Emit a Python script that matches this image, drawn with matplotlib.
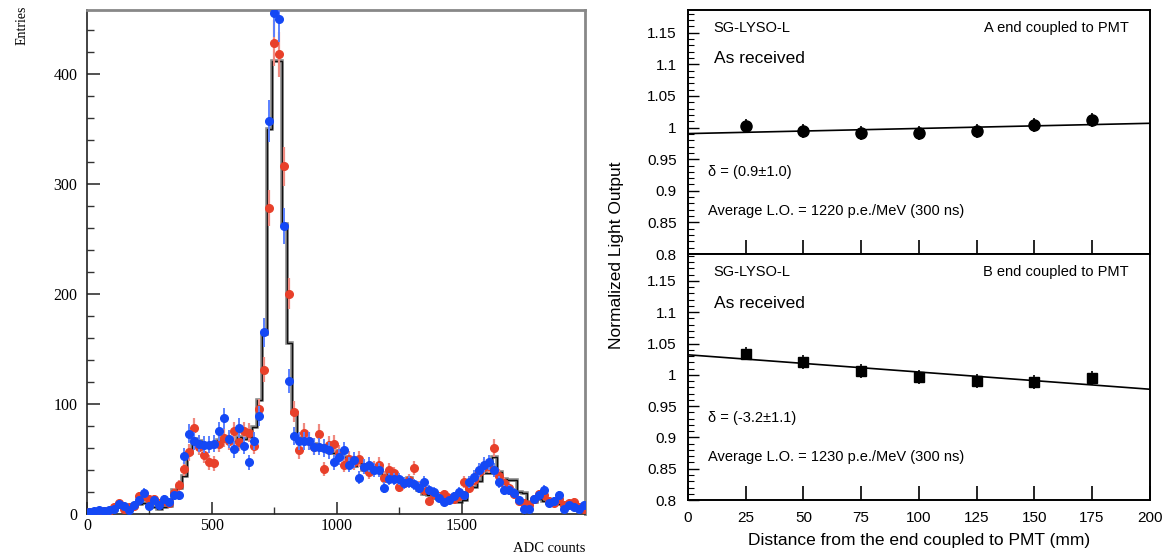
import numpy as np
import matplotlib
matplotlib.use('Agg')
from matplotlib import pyplot as plt
from matplotlib.ticker import MultipleLocator

# ---- left panel: ADC spectrum, 20-count bins from 0 to 2000 ----
bin_edges = np.arange(0, 2001, 20)
bin_centers = bin_edges[:-1] + 10

blue_counts = [2, 3, 4, 3, 4, 5, 9, 7, 4, 8,
               13, 19, 7, 13, 8, 14, 11, 17, 17, 53,
               73, 66, 64, 63, 63, 64, 75, 87, 68, 59,
               78, 62, 47, 66, 89, 165, 357, 455, 450, 262,
               121, 71, 66, 66, 66, 61, 61, 60, 58, 47,
               52, 58, 45, 49, 33, 43, 45, 40, 40, 24,
               32, 32, 32, 28, 29, 27, 24, 29, 22, 20,
               15, 11, 13, 16, 20, 17, 29, 34, 40, 45,
               47, 40, 29, 22, 22, 19, 13, 5, 5, 14,
               17, 22, 10, 12, 17, 5, 8, 6, 5, 8]

red_counts = [2, 1, 2, 3, 3, 6, 10, 5, 6, 7,
              16, 16, 14, 14, 10, 12, 10, 19, 26, 41,
              56, 78, 61, 54, 47, 46, 64, 69, 66, 75,
              65, 75, 74, 62, 95, 131, 278, 428, 418, 316,
              200, 93, 58, 74, 66, 61, 73, 41, 63, 64,
              55, 45, 50, 47, 50, 43, 38, 42, 45, 33,
              40, 37, 25, 28, 31, 42, 25, 22, 12, 18,
              16, 18, 15, 14, 16, 29, 24, 31, 38, 43,
              44, 60, 35, 28, 24, 18, 12, 10, 8, 14,
              18, 17, 12, 10, 14, 8, 10, 11, 6, 5]

mc_counts = [2, 2, 3, 2, 3, 4, 6, 7, 4, 8,
             9, 10, 8, 6, 5, 6, 7, 22, 24, 35,
             55, 68, 66, 64, 62, 64, 67, 70, 68, 66,
             70, 68, 70, 79, 104, 164, 350, 412, 412, 264,
             155, 92, 69, 67, 66, 64, 62, 58, 56, 55,
             57, 52, 48, 44, 46, 40, 38, 43, 41, 34,
             36, 32, 30, 28, 33, 26, 22, 18, 17, 15,
             14, 13, 12, 12, 11, 13, 29, 25, 30, 37,
             37, 52, 38, 32, 31, 31, 20, 19, 11, 11,
             14, 12, 10, 10, 9, 8, 7, 6, 5, 5]

# ---- right panel: light output vs distance ----
distance = [25, 50, 75, 100, 125, 150, 175]
lo_a = [1.002, 0.994, 0.991, 0.991, 0.995, 1.004, 1.012]
lo_b = [1.034, 1.020, 1.006, 0.997, 0.990, 0.989, 0.995]
lo_err = 0.011
fit_x = [0, 200]
fit_a = [0.9905, 1.0068]
fit_b = [1.032, 0.977]

fig = plt.figure(figsize=(11.66, 5.6), dpi=100)

# left histogram
ax = fig.add_axes([0.0746, 0.0821, 0.4271, 0.9])
blue_c = '#1448f5'
red_c = '#e8402a'
ax.stairs(mc_counts, bin_edges, color='#8a8a8a', lw=2.6, zorder=1)
ax.stairs(mc_counts, bin_edges, color='#111111', lw=1.0, zorder=2)
ax.errorbar(bin_centers, red_counts, yerr=np.sqrt(red_counts), fmt='o',
            color=red_c, ecolor='#f08a80', elinewidth=1.6, ms=5.5, zorder=3)
ax.errorbar(bin_centers, blue_counts, yerr=np.sqrt(blue_counts), fmt='o',
            color=blue_c, ecolor='#5a80ff', elinewidth=1.4, ms=5.5, zorder=4)
ax.set_xlim(0, 1992)
ax.set_ylim(0, 458)
ax.xaxis.set_major_locator(MultipleLocator(500))
ax.xaxis.set_minor_locator(MultipleLocator(250))
ax.yaxis.set_major_locator(MultipleLocator(100))
ax.yaxis.set_minor_locator(MultipleLocator(20))
ax.tick_params(which='both', direction='in', top=False, right=False,
               labelsize=11.5, color='#333333')
ax.tick_params(axis='x', pad=3)
ax.tick_params(axis='y', pad=7)
ax.tick_params(which='major', length=9, width=1.2)
ax.tick_params(which='minor', length=5, width=1.0)
for lab in ax.get_xticklabels() + ax.get_yticklabels():
    lab.set_family('Liberation Serif')
for s in ['top', 'right']:
    ax.spines[s].set_color('#888888')
    ax.spines[s].set_linewidth(2)
for s in ['left', 'bottom']:
    ax.spines[s].set_color('#222222')
    ax.spines[s].set_linewidth(1.2)
fig.text(0.019, 0.99, 'Entries', rotation=90, ha='center', va='top',
         fontsize=10, family='Liberation Serif')
fig.text(0.5017, 0.021, 'ADC counts', ha='right', va='center',
         fontsize=10.5, family='Liberation Serif')

# right stacked panels
sans = 'Liberation Sans'
ax_a = fig.add_axes([0.590, 0.5464, 0.396, 0.4357])
ax_b = fig.add_axes([0.590, 0.1071, 0.396, 0.4393])
panels = [
    (ax_a, lo_a, fit_a, 'o', 1.186, 'A end coupled to PMT', 'δ = (0.9±1.0)',
     'Average L.O. = 1220 p.e./MeV (300 ns)'),
    (ax_b, lo_b, fit_b, 's', 1.193, 'B end coupled to PMT', 'δ = (-3.2±1.1)',
     'Average L.O. = 1230 p.e./MeV (300 ns)'),
]
for a, vals, fit, mk, ytop, end_txt, d_txt, avg_txt in panels:
    a.plot(fit_x, fit, color='black', lw=1.2)
    a.errorbar(distance, vals, yerr=lo_err, fmt=mk, color='black',
               ms=8 if mk == 'o' else 7.5, elinewidth=1.2)
    a.set_xlim(0, 200)
    a.set_ylim(0.8, ytop)
    a.xaxis.set_major_locator(MultipleLocator(25))
    a.yaxis.set_major_locator(MultipleLocator(0.05))
    a.yaxis.set_minor_locator(MultipleLocator(0.01))
    a.tick_params(which='both', direction='in', top=False, right=False,
                  labelsize=11, pad=8)
    a.tick_params(axis='x', which='major', length=10, width=1.2)
    a.tick_params(axis='y', which='major', length=8, width=1.0)
    a.tick_params(axis='y', which='minor', length=4, width=0.8)
    a.yaxis.set_major_formatter(plt.FuncFormatter(lambda v, p: ('%.2f' % v).rstrip('0').rstrip('.')))
    for lab in a.get_xticklabels() + a.get_yticklabels():
        lab.set_family(sans)
    for s in a.spines.values():
        s.set_linewidth(1.4)
    a.text(0.055, 0.925, 'SG-LYSO-L', transform=a.transAxes, fontsize=10.5,
           family=sans, va='center')
    a.text(0.955, 0.925, end_txt, transform=a.transAxes, fontsize=10.5,
           family=sans, va='center', ha='right')
    a.text(0.057, 0.80, 'As received', transform=a.transAxes, fontsize=12.5,
           family=sans, va='center')
    a.text(0.043, 0.335, d_txt, transform=a.transAxes, fontsize=10.5,
           family=sans, va='center')
    a.text(0.043, 0.175, avg_txt, transform=a.transAxes, fontsize=10.5,
           family=sans, va='center')
ax_a.tick_params(axis='x', labelbottom=False)
ax_b.set_xlabel('Distance from the end coupled to PMT (mm)', fontsize=12.5,
                family=sans, labelpad=6)
fig.text(0.529, 0.545, 'Normalized Light Output', rotation=90, ha='center',
         va='center', fontsize=12.5, family=sans)

fig.savefig('out.png', dpi=100)
